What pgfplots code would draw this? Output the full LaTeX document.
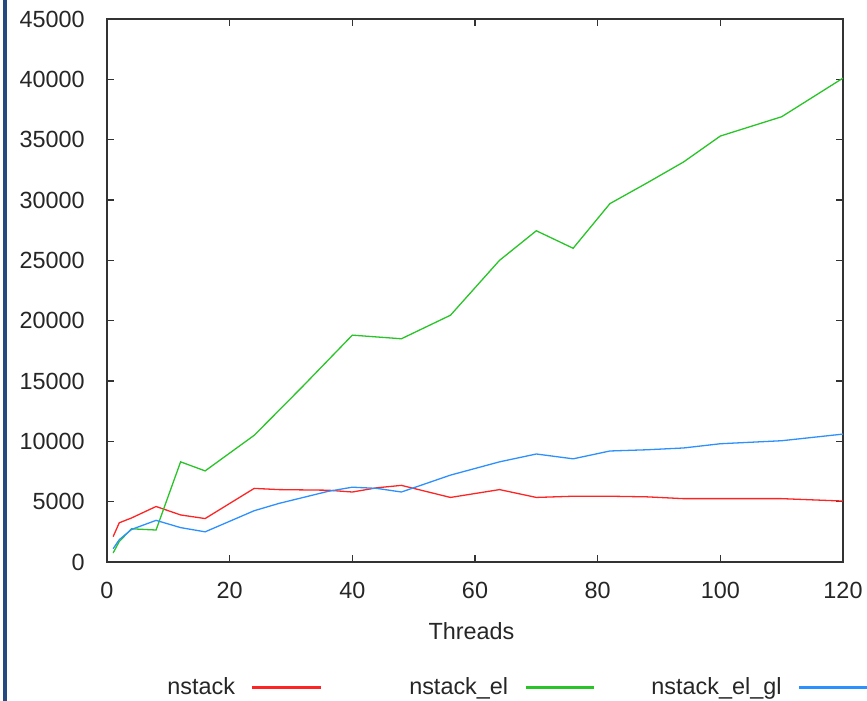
\documentclass[border=0pt]{standalone}
\usepackage{fontspec}
\setmainfont{Liberation Sans}
\usepackage{pgfplots}
\pgfplotsset{compat=1.18}
\definecolor{cred}{HTML}{FF2424}
\definecolor{cgreen}{HTML}{28C428}
\definecolor{cblue}{HTML}{2D90FF}
\definecolor{cbar}{HTML}{244A80}
\definecolor{caxis}{HTML}{333333}
\begin{document}
\begin{tikzpicture}
\begin{axis}[
  scale only axis,
  width=368pt, height=271.5pt,
  xmin=0, xmax=120, ymin=0, ymax=45000,
  xtick={0,20,...,120},
  ytick={0,5000,...,45000},
  scaled y ticks=false,
  /pgf/number format/.cd, 1000 sep={}, assume math mode=true,
  /pgfplots/.cd,
  tick align=inside,
  major tick length=3.3pt,
  axis line style={caxis, line width=0.65pt},
  every tick/.style={caxis, line width=0.65pt},
  tick label style={font=\fontsize{11.7}{14}\selectfont, text=black!85},
  yticklabel style={anchor=east, inner sep=0pt, xshift=-11pt},
  xticklabel style={anchor=north, inner sep=0pt, yshift=-9.8pt},
  xlabel={Threads},
  xlabel style={at={(axis description cs:0.5,0)}, anchor=north, inner sep=0pt, yshift=-30.3pt, xshift=-1.75pt, font=\fontsize{11.7}{14}\selectfont, text=black!85},
  legend columns=4,
  legend style={draw=none, fill=none, inner sep=0pt, at={(axis description cs:0.0577,-0.2315)}, anchor=west,
    cells={anchor=west}, nodes={inner sep=0pt, text depth=0.15em, font=\fontsize{11.7}{14}\selectfont, text=black!85},
    /tikz/column sep=8.75pt},
]
\addplot[cred, line width=0.65pt, forget plot] coordinates {
(1,2100) (2,3250) (4,3650) (8,4600) (12,3900) (16,3600) (24,6100) (28,6000)
(36,5950) (40,5800) (44,6150) (48,6350) (56,5350) (64,6000) (70,5350) (76,5450)
(82,5450) (88,5400) (94,5250) (100,5250) (110,5250) (120,5050)};
\addplot[cgreen, line width=0.65pt, forget plot] coordinates {
(1,750) (2,1700) (4,2750) (8,2650) (12,8300) (16,7550) (24,10500) (32,14600)
(40,18800) (44,18650) (48,18500) (56,20450) (64,25000) (70,27450) (76,26000)
(82,29700) (88,31400) (94,33150) (100,35300) (110,36900) (120,40100)};
\addplot[cblue, line width=0.65pt, forget plot] coordinates {
(1,1100) (2,1850) (4,2700) (8,3450) (12,2850) (16,2500) (24,4250) (28,4850)
(32,5350) (36,5850) (40,6200) (44,6100) (48,5800) (56,7200) (64,8300) (70,8950)
(76,8550) (82,9200) (88,9300) (94,9450) (100,9800) (110,10050) (120,10600)};
\addlegendimage{empty legend}
\addlegendentry{nstack}
\addlegendimage{legend image code/.code={\fill[cred] (0pt,-0.45pt) rectangle (33.75pt,0.45pt);}}
\addlegendentry{\hspace*{35.5pt}nstack\_el}
\addlegendimage{legend image code/.code={\fill[cgreen] (0pt,-0.45pt) rectangle (33.75pt,0.45pt);}}
\addlegendentry{\hspace*{20pt}nstack\_el\_gl}
\addlegendimage{legend image code/.code={\fill[cblue] (0pt,-0.45pt) rectangle (33.75pt,0.45pt);}}
\addlegendentry{}
\end{axis}
\fill[cbar] (-51.85pt,-69.5pt) rectangle (-49.85pt,281pt);
\pgfresetboundingbox
\path[use as bounding box] (-53.5pt,-69.5pt) rectangle (380pt,281pt);
\end{tikzpicture}
\end{document}
